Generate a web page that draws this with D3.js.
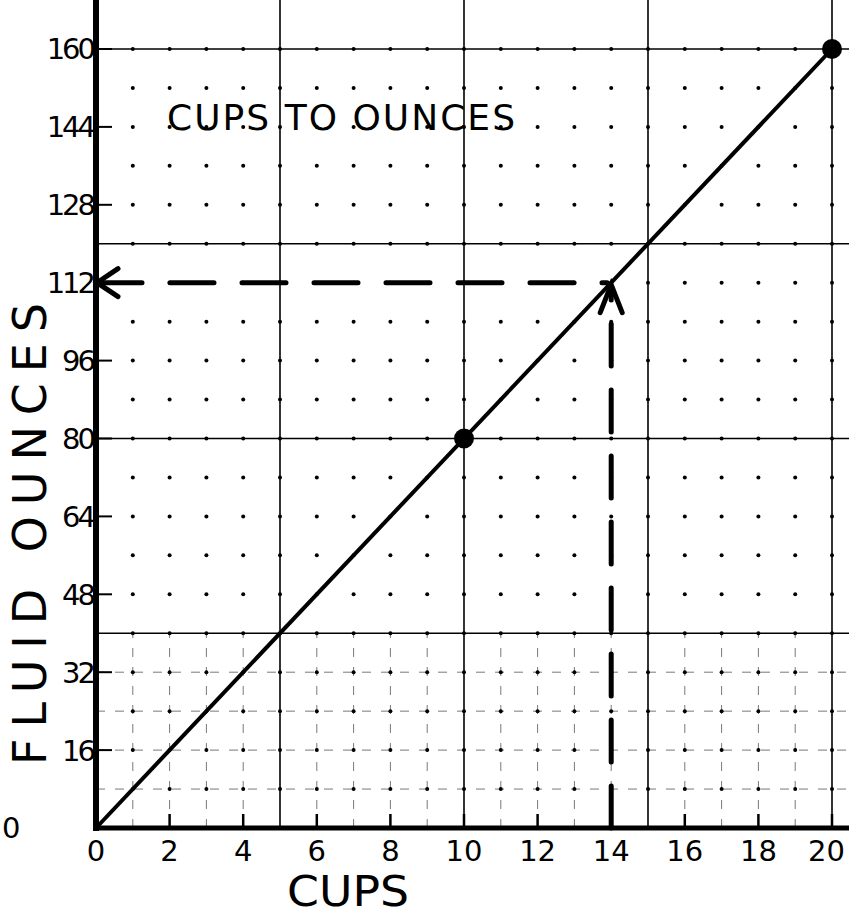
<!DOCTYPE html>
<html>
<head>
<meta charset="utf-8">
<script src="https://cdn.jsdelivr.net/npm/d3@7"></script>
<style>
  html, body { margin: 0; padding: 0; background: #fff; }
  svg text { font-family: "DejaVu Sans", sans-serif; fill: #000; }
</style>
</head>
<body>
<svg id="chart" width="849" height="915"></svg>
<script>
const lineCups = [0, 20];
const lineOunces = [0, 160];
const markedCups = [10, 20];
const markedOunces = [80, 160];
const readCups = 14;
const readOunces = 112;
const xTicks = [0, 2, 4, 6, 8, 10, 12, 14, 16, 18, 20];
const yTicks = [0, 16, 32, 48, 64, 80, 96, 112, 128, 144, 160];
const majorCups = [5, 10, 15, 20];
const majorOunces = [40, 80, 120, 160];

const width = 849, height = 915;
const svg = d3.select('#chart');
const x = d3.scaleLinear().domain([0, 20]).range([96, 832]);
const y = d3.scaleLinear().domain([0, 160]).range([828, 49]);

// minor grid: dots at each cup / 8 oz, faint dashes in the bottom band
const minorCups = d3.range(1, 21);
const minorOunces = d3.range(8, 161, 8);
const faint = svg.append('g').attr('stroke', '#555').attr('stroke-width', 0.8).attr('stroke-dasharray', '9 10');
faint.selectAll('line.h').data(minorOunces.filter(d => d < 40)).join('line')
  .attr('x1', x(0)).attr('x2', width).attr('y1', d => y(d)).attr('y2', d => y(d));
faint.selectAll('line.v').data(minorCups.filter(d => d % 5 !== 0)).join('line')
  .attr('x1', d => x(d)).attr('x2', d => x(d)).attr('y1', y(0)).attr('y2', y(40));

const dots = [];
minorCups.forEach(c => minorOunces.forEach(o => dots.push([c, o])));
svg.append('g').selectAll('circle').data(dots).join('circle')
  .attr('cx', d => x(d[0])).attr('cy', d => y(d[1])).attr('r', 2).attr('fill', '#000');

// major grid
svg.append('g').selectAll('line').data(majorCups).join('line')
  .attr('x1', d => x(d)).attr('x2', d => x(d)).attr('y1', 0).attr('y2', y(0))
  .attr('stroke', '#000').attr('stroke-width', 1.6);
svg.append('g').selectAll('line').data(majorOunces).join('line')
  .attr('x1', x(0)).attr('x2', width).attr('y1', d => y(d)).attr('y2', d => y(d))
  .attr('stroke', '#000').attr('stroke-width', 1.6);

// axes
svg.append('line').attr('x1', x(0)).attr('x2', x(0)).attr('y1', 0).attr('y2', y(0) + 3)
  .attr('stroke', '#000').attr('stroke-width', 6);
svg.append('line').attr('x1', x(0) - 3).attr('x2', width).attr('y1', y(0)).attr('y2', y(0))
  .attr('stroke', '#000').attr('stroke-width', 5);

svg.append('g').selectAll('line').data(yTicks.slice(1)).join('line')
  .attr('x1', x(0)).attr('x2', x(0) + 16).attr('y1', d => y(d)).attr('y2', d => y(d))
  .attr('stroke', '#000').attr('stroke-width', 2);
svg.append('g').selectAll('line').data(xTicks.slice(1)).join('line')
  .attr('x1', d => x(d)).attr('x2', d => x(d)).attr('y1', y(0)).attr('y2', y(0) - 14)
  .attr('stroke', '#000').attr('stroke-width', 2.5);

svg.append('g').selectAll('text').data(yTicks.slice(1)).join('text')
  .attr('x', x(0) - 3).attr('y', d => y(d)).attr('dy', '0.36em')
  .attr('text-anchor', 'end').attr('font-size', 29).attr('letter-spacing', -3)
  .text(d => d);
svg.append('text').attr('x', 2).attr('y', y(0) + 10).attr('font-size', 29).text('0');

// last label sits flush with the right edge
const lastX = xTicks[xTicks.length - 1];
svg.append('g').selectAll('text').data(xTicks).join('text')
  .attr('x', d => d === lastX ? width - 4 : x(d)).attr('y', y(0) + 33)
  .attr('text-anchor', d => d === lastX ? 'end' : 'middle').attr('font-size', 29)
  .text(d => d);

// conversion line and marked points
svg.append('path')
  .datum(lineCups.map((c, i) => [c, lineOunces[i]]))
  .attr('d', d3.line().x(d => x(d[0])).y(d => y(d[1])))
  .attr('fill', 'none').attr('stroke', '#000').attr('stroke-width', 4);
svg.append('g').selectAll('circle').data(markedCups).join('circle')
  .attr('cx', d => x(d)).attr('cy', (d, i) => y(markedOunces[i])).attr('r', 10).attr('fill', '#000');

// reading guide
const guide = svg.append('g').attr('stroke', '#000').attr('fill', 'none').attr('stroke-linecap', 'round');
guide.append('line').attr('x1', x(0) + 2).attr('x2', x(readCups) - 4)
  .attr('y1', y(readOunces)).attr('y2', y(readOunces))
  .attr('stroke-width', 5).attr('stroke-dasharray', '44 28');
guide.append('path')
  .attr('d', `M${x(0) + 22},${y(readOunces) - 14}L${x(0) + 1},${y(readOunces)}L${x(0) + 22},${y(readOunces) + 14}`)
  .attr('stroke-width', 5);
guide.append('line').attr('x1', x(readCups)).attr('x2', x(readCups))
  .attr('y1', y(0)).attr('y2', y(readOunces) + 4)
  .attr('stroke-width', 5).attr('stroke-dasharray', '42 24');
guide.append('path')
  .attr('d', `M${x(readCups) - 11},${y(readOunces) + 30}L${x(readCups)},${y(readOunces) + 2}L${x(readCups) + 11},${y(readOunces) + 30}`)
  .attr('stroke-width', 5);

// titles
svg.append('text').attr('x', 167).attr('y', 130).attr('font-size', 36)
  .attr('textLength', 348).attr('lengthAdjust', 'spacing').text('CUPS TO OUNCES');
svg.append('text').attr('x', 287).attr('y', 906).attr('font-size', 42)
  .attr('textLength', 122).attr('lengthAdjust', 'spacingAndGlyphs').text('CUPS');
svg.append('text').attr('transform', 'translate(46,765) rotate(-90)').attr('font-size', 46)
  .attr('textLength', 462).attr('lengthAdjust', 'spacing').text('FLUID OUNCES');
</script>
</body>
</html>
